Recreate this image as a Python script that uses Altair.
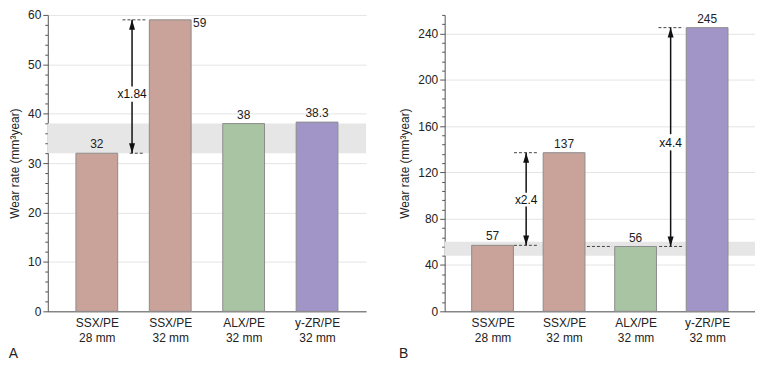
import json
import altair as alt
import pandas as pd

FONT = "Liberation Sans"

# ---------------- data ----------------
cat_top = ["SSX/PE", "SSX/PE", "ALX/PE", "y-ZR/PE"]
cat_bottom = ["28 mm", "32 mm", "32 mm", "32 mm"]
bar_colors = ["#c9a29a", "#c9a29a", "#a9c4a2", "#a195c8"]

a_values = [32, 59, 38, 38.3]
a_labels = ["32", "59", "38", "38.3"]
b_values = [57, 137, 56, 245]
b_labels = ["57", "137", "56", "245"]

a_band = [32, 38]
b_band = [48, 60]

# dashed reference lines (x in category-index units)
a_dash_x1 = [0.35, 0.45]
a_dash_x2 = [0.68, 0.65]
a_dash_y = [59, 32]
b_dash_x1 = [0.30, 0.30, 1.32, 2.33, 2.32]
b_dash_x2 = [0.64, 0.64, 1.67, 2.67, 2.67]
b_dash_y = [137, 57, 56, 56, 245]

# ratio arrows
a_arrow_x = [0.48]
a_arrow_lo = [32]
a_arrow_hi = [59]
a_arrow_text = ["x1.84"]
a_arrow_text_y = [44]
a_arrow_gap_lo = [42.4]
a_arrow_gap_hi = [45.5]

b_arrow_x = [0.47, 2.49]
b_arrow_lo = [57, 56]
b_arrow_hi = [137, 245]
b_arrow_text = ["x2.4", "x4.4"]
b_arrow_text_y = [96, 145.5]
b_arrow_gap_lo = [90.5, 139]
b_arrow_gap_hi = [102.5, 153]

Y_TITLE = "Wear rate (mm³year)"
X_DOMAIN = [-0.6, 3.6]
UP = "M0,0L-0.3,1L0.3,1Z"
DOWN = "M0,0L-0.3,-1L0.3,-1Z"


def panel(values, labels, band, dx1, dx2, dy, ax, alo, ahi, atext, aty, glo, ghi,
          ymax, minor, major, side_idx, letter, width, height):
    idx = list(range(len(values)))
    bars = pd.DataFrame({"idx": idx, "value": values, "label": labels, "color": bar_colors})
    band_df = pd.DataFrame({"lo": [band[0]], "hi": [band[1]]})
    dash_df = pd.DataFrame({"x1": dx1, "x2": dx2, "y": dy})
    seg_rows = []
    for x, lo, hi, gl, gh in zip(ax, alo, ahi, glo, ghi):
        seg_rows.append({"x": x, "y1": lo, "y2": gl})
        seg_rows.append({"x": x, "y1": gh, "y2": hi})
    seg_df = pd.DataFrame(seg_rows)
    up_df = pd.DataFrame({"x": ax, "y": ahi})
    down_df = pd.DataFrame({"x": ax, "y": alo})
    txt_df = pd.DataFrame({"x": ax, "y": aty, "t": atext})

    label_expr = json.dumps([[t, b] for t, b in zip(cat_top, cat_bottom)]) + "[datum.value]"
    xscale = alt.Scale(domain=X_DOMAIN, nice=False, zero=False)
    yscale = alt.Scale(domain=[0, ymax], nice=False)

    is_major = f"datum.value % {major} === 0"
    x_axis = alt.Axis(values=idx, labelExpr=label_expr, grid=False, ticks=False,
                      title=None, domainColor="#555555", labelColor="#222222",
                      labelFont=FONT, labelFontSize=12, labelPadding=6,
                      labelLineHeight=15, labelOverlap=False)
    y_axis = alt.Axis(
        values=list(range(0, ymax + 1, minor)),
        labelExpr=f"{is_major} ? datum.label : ''",
        labelOverlap=False,
        tickSize={"condition": {"test": is_major, "value": 5}, "value": 3},
        gridOpacity={"condition": {"test": is_major, "value": 1}, "value": 0},
        gridColor="#e4e4e4", domainColor="#555555", tickColor="#555555",
        labelColor="#222222", labelFont=FONT, labelFontSize=12, labelPadding=2,
        title=Y_TITLE, titleFont=FONT, titleFontSize=12, titleFontWeight="normal",
        titleColor="#222222", titlePadding=6,
    )

    def X(f):
        return alt.X(f, scale=xscale, axis=x_axis)

    def Y(f):
        return alt.Y(f, scale=yscale, axis=y_axis)

    band_layer = alt.Chart(band_df).mark_rect(color="#e6e6e6").encode(
        x=alt.value(0), x2=alt.value(width), y=Y("lo:Q"), y2="hi:Q",
    )
    bar_layer = alt.Chart(bars).mark_bar(size=42, stroke="#8c8c8c", strokeWidth=1).encode(
        x=X("idx:Q"), y=Y("value:Q"), color=alt.Color("color:N", scale=None),
    )
    top_labels = alt.Chart(bars).transform_filter(f"datum.idx != {side_idx}").mark_text(
        baseline="bottom", dy=-2, font=FONT, fontSize=12, color="#222222"
    ).encode(x=X("idx:Q"), y=Y("value:Q"), text="label:N")
    side_labels = alt.Chart(bars).transform_filter(f"datum.idx == {side_idx}").mark_text(
        align="left", baseline="middle", dx=23, dy=3, font=FONT, fontSize=12, color="#222222"
    ).encode(x=X("idx:Q"), y=Y("value:Q"), text="label:N")
    dash_layer = alt.Chart(dash_df).mark_rule(strokeDash=[3, 2], color="#444444", strokeWidth=1).encode(
        x=X("x1:Q"), x2="x2:Q", y=Y("y:Q"),
    )
    seg_layer = alt.Chart(seg_df).mark_rule(color="#111111", strokeWidth=1.5).encode(
        x=X("x:Q"), y=Y("y1:Q"), y2="y2:Q",
    )
    up_layer = alt.Chart(up_df).mark_point(shape=UP, filled=True, size=400, color="#111111", opacity=1).encode(
        x=X("x:Q"), y=Y("y:Q"),
    )
    down_layer = alt.Chart(down_df).mark_point(shape=DOWN, filled=True, size=400, color="#111111", opacity=1).encode(
        x=X("x:Q"), y=Y("y:Q"),
    )
    txt_layer = alt.Chart(txt_df).mark_text(font=FONT, fontSize=12, color="#111111", baseline="middle").encode(
        x=X("x:Q"), y=Y("y:Q"), text="t:N",
    )
    return alt.layer(
        band_layer, bar_layer, top_labels, side_labels, dash_layer, seg_layer,
        up_layer, down_layer, txt_layer,
    ).properties(
        width=width, height=height,
        title=alt.TitleParams(letter, orient="bottom", anchor="start", frame="bounds",
                              font=FONT, fontSize=14, fontWeight="normal", color="#222222",
                              offset=4),
    )


pa = panel(a_values, a_labels, a_band, a_dash_x1, a_dash_x2, a_dash_y,
           a_arrow_x, a_arrow_lo, a_arrow_hi, a_arrow_text, a_arrow_text_y,
           a_arrow_gap_lo, a_arrow_gap_hi, 60, 2, 10, 1, "A", 320, 298)
pb = panel(b_values, b_labels, b_band, b_dash_x1, b_dash_x2, b_dash_y,
           b_arrow_x, b_arrow_lo, b_arrow_hi, b_arrow_text, b_arrow_text_y,
           b_arrow_gap_lo, b_arrow_gap_hi, 256, 8, 40, -1, "B", 312, 298)

chart = alt.hconcat(pa, pb, spacing=32).properties(
    padding={"left": 0, "top": 0, "right": 0, "bottom": 0}
).configure_view(stroke=None)

chart.save("out.html", embed_options={"renderer": "svg", "actions": False})
